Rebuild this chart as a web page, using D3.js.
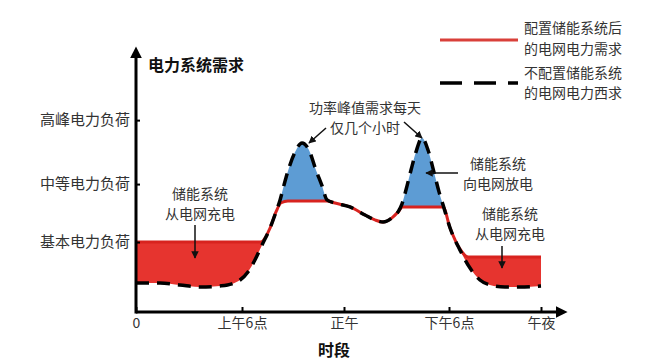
<!DOCTYPE html>
<html><head><meta charset="utf-8">
<script src="https://cdn.jsdelivr.net/npm/d3@7"></script>
<style>
html,body{margin:0;padding:0;background:#fff;}
text{font-family:"Noto Sans CJK SC","Noto Sans",sans-serif;}
</style></head>
<body>
<svg id="chart" width="672" height="361"></svg>
<script>
// ---- data ----
const xTickHours = [0, 6, 12, 18, 24];
const xTickLabels = ["0", "上午6点", "正午", "下午6点", "午夜"];
const yLevels = [26.9, 49.2, 73.8];
const yLevelLabels = ["基本电力负荷", "中等电力负荷", "高峰电力负荷"];

// demand without storage (dashed)
const baseHours = [0,1.36,2.49,3.62,4.75,5.43,5.89,6.35,6.76,7.18,7.65,8.0,8.24,8.47,8.76,9.12,9.53,9.94,10.35,10.71,11.0,11.47,12.34,13.2,13.77,14.23,14.74,15.09,15.31,15.54,15.83,16.11,16.46,16.8,17.14,17.43,17.66,18.07,18.72,19.37,20.02,20.67,21.65,22.63,24];
const baseDemand = [11.2,11.2,10.4,9.6,10.0,10.8,12.3,15.4,20.0,25.8,32.3,38.5,43.1,48.8,55.4,61.5,65.0,62.3,54.6,48.5,43.1,41.9,40.4,37.3,35.4,34.6,36.2,38.5,41.5,46.9,54.6,61.5,66.9,62.3,53.8,46.2,41.2,32.3,23.8,16.9,12.3,10.4,9.6,9.6,10.0];

// demand with storage (red)
const storeHours = [0,7.1,7.65,8.0,8.3,8.7,11.0,11.47,12.34,13.2,13.77,14.23,14.74,15.09,15.35,17.66,18.07,18.72,19.24,24];
const storeDemand = [26.9,26.9,32.3,38.5,42.0,42.7,42.7,41.9,40.4,37.3,35.4,34.6,36.2,38.5,40.4,40.4,32.3,24.2,21.2,21.2];

const legendLabels = [["配置储能系统后","的电网电力需求"],["不配置储能系统","的电网电力西求"]];
const titleY = "电力系统需求";
const titleX = "时段";
const annPeak = ["功率峰值需求每天","仅几个小时"];
const annDischarge = ["储能系统","向电网放电"];
const annCharge = ["储能系统","从电网充电"];

// ---- chart ----
const svg = d3.select("#chart");
const x = d3.scaleLinear().domain(xTickHours).range([136,242,344,449,541]);
const y = d3.scaleLinear().domain([0,100]).range([312,52]);

const defs = svg.append("defs");
defs.append("marker").attr("id","arr").attr("viewBox","0 0 10 10").attr("refX",9).attr("refY",5)
  .attr("markerWidth",5).attr("markerHeight",5).attr("orient","auto")
  .append("path").attr("d","M0,0L10,5L0,10z").attr("fill","#111");
defs.append("marker").attr("id","axarr").attr("viewBox","0 0 10 10").attr("refX",2).attr("refY",5)
  .attr("markerWidth",4).attr("markerHeight",4).attr("orient","auto")
  .append("path").attr("d","M0,0L10,5L0,10z").attr("fill","#000");

const base = baseHours.map((h,i)=>[h, baseDemand[i]]);
const store = storeHours.map((h,i)=>[h, storeDemand[i]]);
const curve = d3.curveMonotoneX;
const line = d3.line().x(d=>x(d[0])).y(d=>y(d[1])).curve(curve);
const areaBelow = d3.area().x(d=>x(d[0])).y0(y(0)).y1(d=>y(d[1])).curve(curve);
const areaAbove = d3.area().x(d=>x(d[0])).y0(y(100)).y1(d=>y(d[1])).curve(curve);

defs.append("clipPath").attr("id","aboveBase").append("path").attr("d", areaAbove(base));
defs.append("clipPath").attr("id","aboveStore").append("path").attr("d", areaAbove(store));

// red fill: below storage line and above base line
svg.append("path").attr("d", areaBelow(store)).attr("fill","#e6342f").attr("clip-path","url(#aboveBase)");
// blue fill: below base line and above storage line
svg.append("path").attr("d", areaBelow(base)).attr("fill","#5d9cd4").attr("clip-path","url(#aboveStore)");

svg.append("path").attr("d", line(store)).attr("fill","none").attr("stroke","#d8231f").attr("stroke-width",3);
svg.append("path").attr("d", line(base)).attr("fill","none").attr("stroke","#000").attr("stroke-width",3.5)
  .attr("stroke-dasharray","13 8");

// axes
const xAxis = d3.axisBottom(x).tickValues(xTickHours).tickSize(-5).tickPadding(6)
  .tickFormat((d,i)=>xTickLabels[i]);
const gx = svg.append("g").attr("transform",`translate(0,${y(0)})`).call(xAxis);
gx.select(".domain").remove();
gx.selectAll(".tick line").attr("stroke","#000").attr("stroke-width",2);
gx.selectAll(".tick text").attr("font-size",14).attr("fill","#333")
  .attr("font-family","'Noto Sans CJK SC',sans-serif");

const yAxis = d3.axisLeft(y).tickValues(yLevels).tickSize(-4).tickPadding(6)
  .tickFormat((d,i)=>yLevelLabels[i]);
const gy = svg.append("g").attr("transform",`translate(${x(0)},0)`).call(yAxis);
gy.select(".domain").remove();
gy.selectAll(".tick line").attr("stroke","#000").attr("stroke-width",2);
gy.selectAll(".tick text").attr("font-size",15).attr("fill","#333")
  .attr("font-family","'Noto Sans CJK SC',sans-serif");

svg.append("line").attr("x1",x(0)).attr("x2",558).attr("y1",y(0)).attr("y2",y(0))
  .attr("stroke","#000").attr("stroke-width",3).attr("marker-end","url(#axarr)");
svg.append("line").attr("x1",x(0)).attr("x2",x(0)).attr("y1",y(0)+1.5).attr("y2",56)
  .attr("stroke","#000").attr("stroke-width",3).attr("marker-end","url(#axarr)");

svg.append("text").attr("x",148).attr("y",65).attr("dy","0.35em").attr("font-size",16)
  .attr("font-weight","bold").attr("fill","#111").text(titleY);
svg.append("text").attr("x",334).attr("y",350).attr("dy","0.35em").attr("text-anchor","middle")
  .attr("font-size",16).attr("font-weight","bold").attr("fill","#111").text(titleX);

// legend
svg.append("line").attr("x1",440).attr("x2",518).attr("y1",40).attr("y2",40)
  .attr("stroke","#d9403a").attr("stroke-width",3);
svg.append("line").attr("x1",440).attr("x2",518).attr("y1",83).attr("y2",83)
  .attr("stroke","#000").attr("stroke-width",3.5).attr("stroke-dasharray","22 12");
function lines(arr, cx, cy, anchor, size){
  arr.forEach((s,i)=>svg.append("text").attr("text-anchor",anchor).attr("font-size",size)
    .attr("fill","#333").attr("x",cx).attr("y",cy+i*20.5).attr("dy","0.35em").text(s));
}
lines(legendLabels[0], 524, 28.5, "start", 14);
lines(legendLabels[1], 524, 73, "start", 14);

// annotations
lines(annPeak, 365, 108, "middle", 14);
lines(annDischarge, 498, 164, "middle", 14);
lines(annCharge, 200, 194, "middle", 14);
lines(annCharge, 510, 214, "middle", 14);

function arrow(x1,y1,x2,y2){
  svg.append("line").attr("x1",x1).attr("y1",y1).attr("x2",x2).attr("y2",y2)
    .attr("stroke","#111").attr("stroke-width",1.5).attr("marker-end","url(#arr)");
}
arrow(326,128,309,143);
arrow(404,122,422,138);
arrow(458,173,426,173);
arrow(195,225,195,258);
arrow(502,246,502,268);
</script>
</body></html>
